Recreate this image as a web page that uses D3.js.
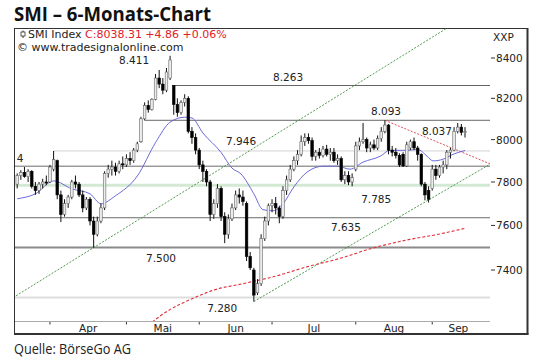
<!DOCTYPE html>
<html><head><meta charset="utf-8">
<script src="https://cdn.jsdelivr.net/npm/d3@7"></script>
<style>html,body{margin:0;padding:0;background:#fff;} svg{display:block;}</style>
</head><body>
<svg id="c" width="540" height="363"></svg>
<script>
// ---------------- DATA ----------------
const months = ["Apr","Mai","Jun","Jul","Aug","Sep"];
const monthStart = [9,30,50,70,93,114];           // bar index of first trading day
const yTicks = [7400,7600,7800,8000,8200,8400];

const open  = [7790,7830,7845,7825,7850,7780,7760,7790,7800,7800,7860,7900,7740,7650,7700,7730,7800,7790,7740,7680,
               7720,7620,7560,7620,7680,7840,7860,7870,7850,7885,7880,7910,7900,7950,7990,8100,8165,8145,8195,8300,
               8270,8240,8300,8263,8170,8130,8180,8200,8040,8010,7950,7880,7850,7800,7650,7700,7770,7640,7560,7630,
               7680,7740,7730,7700,7460,7400,7300,7340,7540,7620,7690,7700,7680,7640,7760,7810,7860,7900,7930,7990,
               8010,7995,7920,7940,7925,7955,7930,7940,7900,7910,7810,7830,7800,7860,7970,7990,8000,7960,7975,7960,
               8005,8040,8070,7950,7940,7925,7930,7875,7960,7990,7960,7930,7790,7760,7770,7860,7830,7870,7880,7940,
               7950,8040,8060,8035];
const high  = [7840,7855,7870,7860,7855,7800,7800,7815,7830,7880,7946,7905,7760,7720,7740,7810,7830,7800,7760,7730,
               7730,7640,7640,7700,7850,7880,7900,7890,7900,7920,7930,7940,7960,7990,8110,8180,8190,8200,8320,8340,
               8300,8350,8411,8263,8200,8190,8220,8210,8060,8030,7960,7900,7860,7810,7720,7790,7780,7660,7650,7700,
               7760,7770,7760,7710,7480,7410,7360,7560,7640,7700,7720,7730,7690,7780,7830,7880,7920,7950,8020,8030,
               8030,8010,7950,7960,7970,7975,7960,7960,7930,7920,7850,7850,7840,7990,8010,8080,8010,7990,8000,8020,
               8060,8093,8075,7970,7960,7935,7940,7990,8000,8010,7970,7935,7800,7780,7880,7880,7880,7900,7950,7960,
               8060,8080,8075,8060];
const low   = [7770,7810,7820,7800,7770,7740,7745,7770,7785,7795,7850,7720,7615,7640,7680,7720,7770,7730,7660,7670,
               7600,7500,7550,7610,7670,7820,7830,7830,7840,7860,7870,7880,7890,7940,7985,8093,8130,8140,8190,8250,
               8220,8230,8290,8120,8110,8120,8160,8030,7980,7930,7860,7800,7780,7620,7630,7680,7620,7520,7540,7620,
               7670,7700,7690,7440,7400,7262,7290,7330,7530,7600,7660,7650,7610,7630,7740,7800,7850,7880,7920,7970,
               7980,7900,7900,7910,7915,7920,7900,7890,7880,7800,7790,7785,7780,7850,7950,7980,7940,7940,7950,7950,
               7990,8030,7930,7920,7910,7870,7870,7870,7950,7950,7900,7780,7715,7705,7760,7810,7820,7840,7860,7910,
               7945,8030,8020,8010];
const close = [7830,7845,7825,7850,7780,7760,7790,7800,7795,7870,7905,7740,7650,7700,7730,7800,7790,7740,7680,7720,
               7620,7560,7620,7680,7840,7860,7870,7850,7885,7880,7910,7900,7950,7980,8100,8165,8145,8195,8300,8270,
               8240,8330,8390,8170,8130,8180,8200,8040,8010,7950,7880,7850,7800,7650,7700,7770,7640,7560,7630,7680,
               7740,7730,7710,7460,7410,7290,7340,7540,7620,7690,7700,7680,7640,7760,7810,7860,7900,7930,7990,8010,
               7995,7920,7940,7925,7955,7930,7940,7900,7910,7810,7830,7800,7820,7970,7990,8000,7960,7975,7960,8005,
               8040,8070,7950,7940,7925,7880,7875,7975,7990,7960,7930,7790,7740,7720,7860,7830,7870,7880,7940,7950,
               8040,8060,8035,8038];

// moving averages (bar index, value)
const maFastIdx = [0,5,10,15,20,23,27,33,38,42,46,48,51,56,59,61.5,65,67.5,70.3,73,76,79.6,84,88,91.4,95,99.7,102.4,107,110,112.6,114.2,117,119.7,123];
const maFastVal = [7722,7745,7805,7768,7745,7699,7736,7828,7986,8084,8108,8104,8032,7939,7865,7837,7745,7672,7667,7699,7777,7846,7874,7874,7860,7893,7921,7949,7949,7953,7921,7899,7907,7930,7948];
const maSlowIdx = [36,40.9,48.6,54,62.3,70.3,79.5,88.7,97.7,107,116,123];
const maSlowVal = [7160,7217,7278,7312,7341,7370,7414,7452,7498,7534,7561,7587];

// support / resistance levels
const levelValue = [8263,8093,7946,7874,7785,7635,7500,7280];
const levelFrom  = [43,35,10,null,null,null,null,null];   // bar index where line starts (null = full width)
const labelText  = ["8.411","8.263","8.093","8.037","7.946","4","7.785","7.635","7.500","7.280"];
const labelValue = [8411,8263,8093,8037,7946,7874,7785,7635,7500,7280];
const labelBar   = [32.1,74.4,101.3,115.3,61.5,0.8,98.6,90.3,39.5,56.3];

// trend lines: two anchor points (bar index, value) each
const trendGreenUp  = [[21,7500],[123,8609]];
const trendGreenLow = [[65,7262],[123,7815]];
const trendRed      = [[101,8093],[123,7934]];

// ---------------- LAYOUT ----------------
const L = 15, R = 490, T = 28, B = 321;
const svg = d3.select("#c");
svg.append("rect").attr("width",540).attr("height",363).attr("fill","#fff");

const x = d3.scaleLinear().domain([0,123]).range([17.2,465]);
const y = d3.scaleLog().domain([7178,8552]).range([B,T]);

const FONT = "DejaVu Sans, Verdana, sans-serif";

// title & source
svg.append("text").attr("x",14).attr("y",21).attr("font-family","Open Sans, sans-serif")
  .attr("font-weight","700").attr("font-size",20).attr("fill","#111")
  .attr("textLength",197).attr("lengthAdjust","spacingAndGlyphs").text("SMI – 6-Monats-Chart");
svg.append("text").attr("x",14).attr("y",354).attr("font-family","Open Sans, sans-serif")
  .attr("font-size",14.5).attr("fill","#222")
  .attr("textLength",117).attr("lengthAdjust","spacingAndGlyphs").text("Quelle: BörseGo AG");

// outer frame
svg.append("rect").attr("x",14.5).attr("y",28.5).attr("width",513).attr("height",305)
  .attr("fill","none").attr("stroke","#333").attr("stroke-width",1);
svg.append("line").attr("x1",527.5).attr("x2",527.5).attr("y1",28).attr("y2",334.5).attr("stroke","#333").attr("stroke-width",2);
svg.append("line").attr("x1",14).attr("x2",528.5).attr("y1",334).attr("y2",334).attr("stroke","#333").attr("stroke-width",2);

svg.append("clipPath").attr("id","plot").append("rect").attr("x",L).attr("y",T).attr("width",R-L).attr("height",B-T);
const g = svg.append("g").attr("clip-path","url(#plot)");

// level lines
const levelStyle = [
  {c:"#666",w:1},{c:"#666",w:1},{c:"#d2d2d2",w:1},{c:"#6a6a6a",w:1},
  {c:"#d3e9d3",w:3},{c:"#6a6a6a",w:1},{c:"#8a8a8a",w:2},{c:"#dedede",w:2}];
levelValue.forEach((v,i)=>{
  const x0 = levelFrom[i]==null ? L : x(levelFrom[i]);
  g.append("line").attr("x1",x0).attr("x2",R).attr("y1",y(v)).attr("y2",y(v))
    .attr("stroke",levelStyle[i].c).attr("stroke-width",levelStyle[i].w);
});

// helper for trend lines extended in pixel space
function trend(pts, extendLeft, color, dash, w){
  const [p0,p1] = pts;
  const xa = x(p0[0]), ya = y(p0[1]), xb = x(p1[0]), yb = y(p1[1]);
  const s = (yb-ya)/(xb-xa);
  const xs = extendLeft ? L-5 : xa, xe = R+5;
  g.append("line").attr("x1",xs).attr("y1",ya+s*(xs-xa)).attr("x2",xe).attr("y2",ya+s*(xe-xa))
    .attr("stroke",color).attr("stroke-width",w).attr("stroke-dasharray",dash);
}
trend(trendGreenUp, true, "#3f8f3f", "2,1.5", 0.9);
trend(trendGreenLow, false, "#3f8f3f", "2,1.5", 0.9);
trend(trendRed, false, "#e0505a", "2,1.5", 1);

// moving averages
const lineGen = d3.line().x(d=>x(d[0])).y(d=>y(d[1])).curve(d3.curveMonotoneX);
g.append("path").datum(maSlowIdx.map((d,i)=>[d,maSlowVal[i]])).attr("d",lineGen)
  .attr("fill","none").attr("stroke","#e0303a").attr("stroke-width",1.1).attr("stroke-dasharray","3,2");
g.append("path").datum(maFastIdx.map((d,i)=>[d,maFastVal[i]])).attr("d",lineGen)
  .attr("fill","none").attr("stroke","#6a6ad8").attr("stroke-width",1);

// candles
const bars = open.map((o,i)=>({i,o,h:high[i],l:low[i],c:close[i]}));
const cg = g.append("g");
cg.selectAll("line.w").data(bars).join("line")
  .attr("x1",d=>x(d.i)).attr("x2",d=>x(d.i)).attr("y1",d=>y(d.h)).attr("y2",d=>y(d.l))
  .attr("stroke","#111").attr("stroke-width",1);
cg.selectAll("rect.b").data(bars).join("rect")
  .attr("x",d=>x(d.i)-1.3).attr("width",2.6)
  .attr("y",d=>y(Math.max(d.o,d.c)))
  .attr("height",d=>Math.max(1,Math.abs(y(d.o)-y(d.c))))
  .attr("fill",d=>d.c>=d.o?"#ececec":"#000")
  .attr("stroke",d=>d.c>=d.o?"#666":"#000").attr("stroke-width",0.6);

// level labels
const labelOff = {"8.411":8,"8.263":-4.5,"8.093":-5,"8.037":3,"7.946":-6,"4":-4,"7.785":18,"7.635":13,"7.500":14.5,"7.280":14.6};
labelText.forEach((t,i)=>{
  g.append("text").attr("x",x(labelBar[i])).attr("y",y(labelValue[i])+labelOff[t])
    .attr("text-anchor","middle").attr("font-family",FONT).attr("font-size",10.5).attr("fill","#222").text(t);
});

// bottom axis
svg.append("line").attr("x1",L).attr("x2",R).attr("y1",B+0.5).attr("y2",B+0.5).attr("stroke","#aaa");
monthStart.forEach((m,i)=>{
  svg.append("line").attr("x1",x(m)).attr("x2",x(m)).attr("y1",B+1).attr("y2",B+3.5).attr("stroke","#333");
  const next = i<monthStart.length-1 ? monthStart[i+1] : x.invert(R)-1.5;
  svg.append("text").attr("x",x((m+next)/2)).attr("y",332).attr("text-anchor","middle")
    .attr("font-family",FONT).attr("font-size",10.5).attr("fill","#222").text(months[i]);
});

// right axis
yTicks.forEach(v=>{
  svg.append("line").attr("x1",491).attr("x2",495).attr("y1",y(v)).attr("y2",y(v)).attr("stroke","#333");
  svg.append("text").attr("x",496).attr("y",y(v)+4).attr("font-family",FONT).attr("font-size",10.5)
    .attr("fill","#222").text(v);
});
svg.append("text").attr("x",493).attr("y",41).attr("font-family",FONT).attr("font-size",10.5).attr("fill","#222").text("XXP");

// legend
svg.append("line").attr("x1",23).attr("x2",23).attr("y1",30.5).attr("y2",38).attr("stroke","#333");
svg.append("rect").attr("x",21).attr("y",32).attr("width",4).attr("height",4).attr("fill","#fff").attr("stroke","#333").attr("stroke-width",0.8);
const lg = svg.append("text").attr("x",28).attr("y",38).attr("font-family",FONT).attr("font-size",11);
lg.append("tspan").attr("fill","#222").text("SMI Index ");
lg.append("tspan").attr("fill","#e0202a").text("C:8038.31 +4.86 +0.06%");
svg.append("text").attr("x",17).attr("y",51).attr("font-family",FONT).attr("font-size",11).attr("fill","#222")
  .text("© www.tradesignalonline.com");
</script>
</body></html>
